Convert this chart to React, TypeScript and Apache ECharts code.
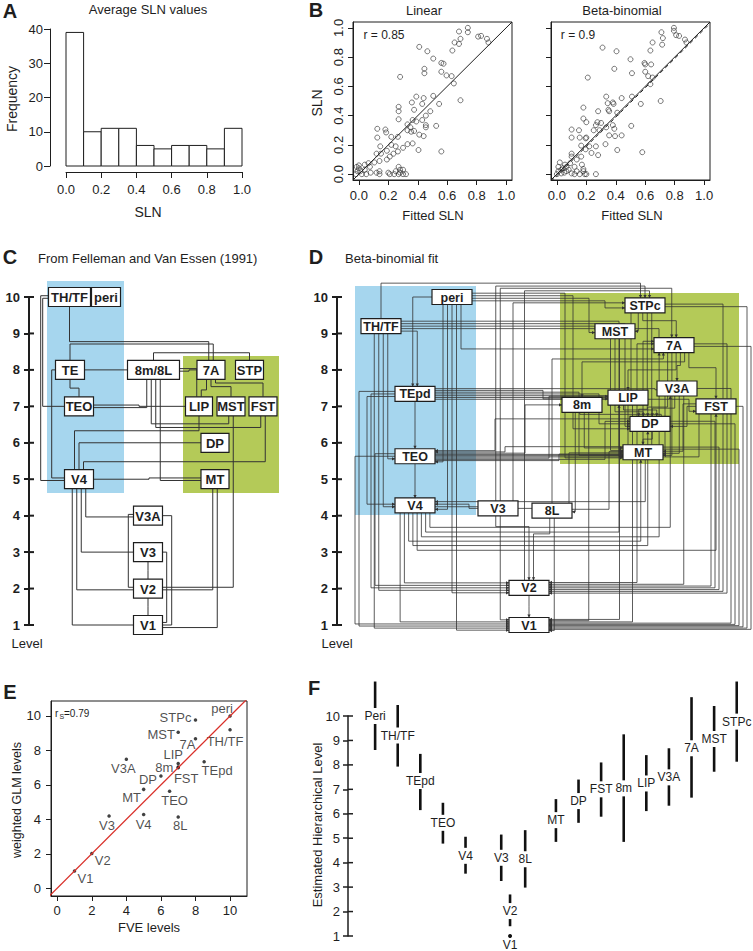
import React, { useEffect, useRef } from "react";
import * as echarts from "echarts";

const FONT = "'Liberation Sans', Arial, Helvetica, sans-serif";
const INK = "#1e1e1e";
const EDGE = "#333333";
const BLUE = "#a6d6ee";
const GREEN = "#b4ca58";
const RED = "#d9302a";

// ---------------- Panel A: histogram of average SLN values
const histBinStart = [0.0, 0.1, 0.2, 0.3, 0.4, 0.5, 0.6, 0.7, 0.8, 0.9];
const histBinEnd = [0.1, 0.2, 0.3, 0.4, 0.5, 0.6, 0.7, 0.8, 0.9, 1.0];
const histCounts = [39, 10, 11, 11, 6, 5, 6, 6, 5, 11];

// ---------------- Panel B: observed vs fitted SLN
const slnTicks = [0, 0.2, 0.4, 0.6, 0.8, 1.0];
const linearPoints = [
  [0.68, 0.975], [0.74, 1.0], [0.74, 0.97], [0.81, 0.94], [0.83, 0.945], [0.87, 0.925], [0.88, 0.9], [0.65, 0.9],
  [0.68, 0.89], [0.69, 0.925], [0.635, 0.845], [0.41, 0.87], [0.465, 0.84], [0.505, 0.79], [0.56, 0.76], [0.575, 0.755],
  [0.445, 0.72], [0.445, 0.69], [0.56, 0.7], [0.595, 0.675], [0.63, 0.67], [0.645, 0.62], [0.28, 0.665], [0.69, 0.505],
  [0.39, 0.53], [0.44, 0.52], [0.505, 0.535], [0.545, 0.48], [0.43, 0.48], [0.36, 0.49], [0.27, 0.46], [0.27, 0.43],
  [0.375, 0.44], [0.485, 0.43], [0.455, 0.4], [0.365, 0.37], [0.27, 0.375], [0.33, 0.34], [0.39, 0.36], [0.43, 0.37],
  [0.455, 0.335], [0.455, 0.32], [0.525, 0.33], [0.35, 0.32], [0.33, 0.3], [0.375, 0.295], [0.355, 0.29], [0.41, 0.27],
  [0.44, 0.26], [0.365, 0.21], [0.33, 0.205], [0.265, 0.255], [0.22, 0.255], [0.185, 0.285], [0.18, 0.305], [0.125, 0.31],
  [0.125, 0.25], [0.145, 0.19], [0.22, 0.2], [0.25, 0.19], [0.3, 0.18], [0.405, 0.165], [0.56, 0.155], [0.15, 0.14],
  [0.12, 0.14], [0.19, 0.16], [0.235, 0.14], [0.265, 0.155], [0.21, 0.12], [0.19, 0.1], [0.14, 0.09], [0.105, 0.08],
  [0.065, 0.075], [0.075, 0.05], [0.04, 0.065], [-0.015, 0.05], [0.0, 0.04], [0.01, 0.02], [0.04, 0.03], [0.08, 0.01],
  [0.14, 0.02], [0.14, 0.0], [0.2, 0.01], [0.21, 0.0], [0.27, 0.05], [0.28, 0.03], [0.27, 0.0], [0.3, 0.0],
  [0.32, 0.0], [0.3, 0.03], [0.25, 0.02], [-0.02, 0.0], [0.02, 0.0], [-0.01, 0.02], [0.12, 0.01], [0.24, 0.0],
  [0.28, 0.01], [0.0, 0.06], [0.05, 0.0],
];
const betaPoints = [
  [0.795, 1.0], [0.795, 0.98], [0.81, 0.95], [0.83, 0.945], [0.71, 0.97], [0.72, 0.93], [0.715, 0.885], [0.65, 0.9],
  [0.635, 0.845], [0.87, 0.92], [0.88, 0.9], [0.31, 0.865], [0.405, 0.84], [0.5, 0.785], [0.39, 0.72], [0.51, 0.69],
  [0.595, 0.76], [0.6, 0.75], [0.64, 0.75], [0.6, 0.7], [0.62, 0.67], [0.65, 0.66], [0.635, 0.615], [0.21, 0.66],
  [0.705, 0.5], [0.335, 0.53], [0.345, 0.485], [0.38, 0.49], [0.385, 0.48], [0.44, 0.52], [0.51, 0.53], [0.57, 0.48],
  [0.18, 0.455], [0.28, 0.43], [0.35, 0.44], [0.355, 0.43], [0.41, 0.42], [0.18, 0.38], [0.2, 0.355], [0.275, 0.355],
  [0.265, 0.335], [0.3, 0.35], [0.335, 0.32], [0.38, 0.335], [0.39, 0.31], [0.505, 0.33], [0.25, 0.3], [0.29, 0.3],
  [0.1, 0.305], [0.15, 0.3], [0.1, 0.25], [0.155, 0.25], [0.195, 0.245], [0.2, 0.25], [0.355, 0.265], [0.395, 0.26],
  [0.44, 0.265], [0.33, 0.205], [0.165, 0.195], [0.22, 0.19], [0.265, 0.19], [0.195, 0.17], [0.235, 0.145], [0.28, 0.13],
  [0.41, 0.165], [0.58, 0.15], [0.1, 0.14], [0.1, 0.12], [0.165, 0.12], [0.135, 0.1], [0.09, 0.075], [0.055, 0.065],
  [0.02, 0.08], [0.01, 0.05], [0.065, 0.05], [0.12, 0.05], [0.17, 0.065], [0.18, 0.035], [0.18, 0.02], [0.19, 0.0],
  [0.2, 0.0], [0.265, 0.0], [0.01, 0.02], [0.03, 0.005], [0.065, 0.02], [0.1, 0.005], [0.135, 0.02], [0.03, 0.03],
  [0.155, 0.0], [0.0, 0.0], [0.05, 0.01], [0.08, 0.03], [0.12, 0.0], [0.04, 0.04],
];
const identityLine = [[-0.04, -0.04], [1.04, 1.04]];
const betaFitLine = [[-0.04, -0.05], [1.04, 1.03]];

// ---------------- Shared area levels (weighted GLM), panels D, E, F
const areaNames = ["V1", "V2", "V3", "V4", "MT", "DP", "V3A", "8m", "LIP", "FST", "TEO", "8L", "TEpd", "7A", "TH/TF", "MST", "STPc", "peri"];
const fveLevels = [1, 2, 3, 5, 5, 6, 4, 7, 7, 7, 6.5, 7, 8.5, 8, 10, 7, 8, 10];
const glmLevels = [1.0, 2.02, 4.2, 4.28, 5.74, 6.52, 7.49, 7.04, 7.24, 7.0, 5.63, 4.14, 7.34, 8.68, 9.2, 9.06, 9.77, 10.0];
const eLabelOffsets = [[11, 7], [11, 7], [-2, 10], [0, 10], [-12, 8], [-13, 4], [-3, 9], [-14, 1], [-5, -9], [8, 11], [5, 9], [2, 9], [13, 9], [-8, 6], [-5, 12], [-17, 2], [-20, -2], [-8, -7]];
const eTicks = [0, 2, 4, 6, 8, 10];
const levelTicks = [1, 2, 3, 4, 5, 6, 7, 8, 9, 10];

// ---------------- Panel C: Felleman & Van Essen hierarchy
const cNodeNames = ["TH/TF", "peri", "TE", "TEO", "8m/8L", "7A", "STP", "LIP", "MST", "FST", "DP", "MT", "V4", "V3A", "V3", "V2", "V1"];
const cNodeColumns = [40.5, 77, 41, 50, 124.5, 182, 220.5, 170, 202, 234, 186, 186, 50, 119, 119, 119, 119];
const cNodeLevels = [10, 10, 8, 7, 8, 8, 8, 7, 7, 7, 6, 5, 5, 4, 3, 2, 1];
const cNodeWidths = [42, 29, 29, 29, 52, 28, 28, 27, 28, 28, 28, 28, 29, 29, 29, 29, 29];
const cEdges: [string, string, string, number][] = [
  ["TH/TF", "TEO", "hvh", 13.7], ["TH/TF", "V4", "hvh", 11.7], ["TH/TF", "7A", "vhv", 8.775], ["TE", "7A", "vhv", 8.71],
  ["8m/8L", "STP", "vhv", 8.47], ["TE", "8m/8L", "hvh", 70], ["8m/8L", "7A", "hvh", 160], ["8m/8L", "LIP", "hv", 0],
  ["TE", "TEO", "vhv", 7.5], ["TE", "V4", "hvh", 22.7], ["TEO", "8m/8L", "hv", 0], ["TEO", "LIP", "hvh", 110],
  ["7A", "LIP", "vhv", 7.45], ["7A", "MST", "vhv", 7.54], ["7A", "FST", "vhv", 7.64], ["8m/8L", "MST", "vhv", 6.52],
  ["8m/8L", "FST", "vhv", 6.42], ["V4", "LIP", "vhv", 6.33], ["8m/8L", "MT", "vh", 0], ["V4", "DP", "vh", 0],
  ["V4", "FST", "vhv", 5.48], ["V4", "MT", "hvh", 120], ["MT", "V2", "vh", 0], ["MT", "V1", "vh", 0],
  ["MST", "V2", "vh", 0], ["V4", "V1", "vh", 0], ["V4", "V2", "vh", 0], ["V4", "V3", "vh", 0], ["V4", "V3A", "vh", 0],
  ["V3A", "V2", "hvh", 99.3], ["V3A", "V1", "hvh", 142.7], ["V3", "V1", "hvh", 137.7], ["V3", "V2", "vhv", 2.5],
  ["V2", "V1", "vhv", 1.5],
];
const cRegions = [
  { x1: 18, x2: 95, top: 10.44, bottom: 4.62 },
  { x1: 154, x2: 250, top: 8.38, bottom: 4.62 },
];

// ---------------- Panel D: beta-binomial fit hierarchy
const dNodeNames = ["peri", "STPc", "TH/TF", "MST", "7A", "TEpd", "V3A", "LIP", "8m", "FST", "DP", "MT", "TEO", "V4", "V3", "8L", "V2", "V1"];
const dNodeColumns = [115, 308, 44, 278, 337, 78, 340, 291, 245, 379, 313, 306, 78, 78, 161, 215, 192, 192];
const dEdges: [string, string, string, number][] = [
  ["TH/TF", "STPc", "vhv", 10.38], ["V3", "STPc", "vhv", 10.3], ["V3", "7A", "vhv", 10.24], ["V2", "STPc", "vhv", 10.17],
  ["peri", "TEpd", "hv", 0], ["peri", "TEO", "vh", 0], ["peri", "V4", "vh", 0], ["peri", "V2", "vh", 0], ["peri", "V1", "vh", 0],
  ["peri", "7A", "vh", 0], ["peri", "STPc", "hvh", 268], ["peri", "MST", "hvh", 252], ["peri", "DP", "hvh", 236], ["peri", "MT", "hvh", 228],
  ["TH/TF", "V1", "vh", 0], ["TH/TF", "V2", "vh", 0], ["TH/TF", "V4", "vh", 0], ["TH/TF", "TEO", "vh", 0], ["TH/TF", "TEpd", "hv", 0],
  ["TH/TF", "7A", "hvh", 322], ["TH/TF", "MST", "hvh", 258], ["TH/TF", "DP", "hvh", 288], ["TH/TF", "MT", "hvh", 282],
  ["TEpd", "TEO", "vhv", 6.6], ["TEpd", "V4", "hvh", 30], ["TEpd", "V2", "hvh", 34], ["TEpd", "V1", "hvh", 22],
  ["TEpd", "FST", "hvh", 352], ["TEpd", "7A", "hvh", 300], ["TEpd", "STPc", "hvh", 294], ["TEpd", "DP", "hvh", 262],
  ["TEpd", "MT", "hvh", 242], ["TEpd", "LIP", "hvh", 206], ["TEpd", "V3A", "hvh", 318],
  ["TEO", "V4", "vhv", 4.95], ["TEO", "V1", "hvh", 18], ["TEO", "V2", "hvh", 38], ["TEO", "MT", "hvh", 222],
  ["TEO", "DP", "hvh", 268], ["TEO", "LIP", "hvh", 212], ["TEO", "FST", "hvh", 362], ["TEO", "7A", "hvh", 306],
  ["TEO", "V3A", "hvh", 328], ["TEO", "8m", "hvh", 188],
  ["V4", "V1", "vh", 0], ["V4", "V2", "vh", 0], ["V4", "MT", "vhv", 3.3], ["V4", "DP", "vhv", 3.18], ["V4", "FST", "vhv", 3.05],
  ["V4", "7A", "vhv", 3.42], ["V4", "LIP", "vhv", 3.55], ["V4", "V3A", "vhv", 3.68], ["V4", "STPc", "hvh", 176],
  ["V3", "V4", "hvh", 132], ["V3", "V2", "vhv", 3.7], ["V3", "V1", "vh", 0], ["V3", "MT", "hvh", 232],
  ["8L", "V2", "vhv", 3.5], ["8L", "V1", "vh", 0], ["8L", "7A", "vhv", 8.3], ["8m", "8L", "vh", 0], ["8L", "MT", "hvh", 272],
  ["STPc", "MST", "vh", 0], ["STPc", "7A", "vhv", 9.35], ["STPc", "DP", "vhv", 6.92], ["STPc", "MT", "vh", 0],
  ["MST", "MT", "vh", 0], ["MST", "DP", "vhv", 6.85], ["7A", "DP", "vhv", 6.98], ["7A", "MT", "vh", 0],
  ["7A", "LIP", "vhv", 8.0], ["7A", "V3A", "vhv", 8.12], ["7A", "8m", "vhv", 8.22], ["7A", "FST", "vhv", 8.06],
  ["V3A", "DP", "vhv", 6.95], ["V3A", "MT", "vh", 0], ["LIP", "DP", "vhv", 6.9], ["LIP", "MT", "vh", 0],
  ["8m", "DP", "vhv", 6.78], ["8m", "MT", "vh", 0], ["FST", "DP", "hvh", 350], ["FST", "MT", "hvh", 346], ["DP", "MT", "vhv", 6.1],
  ["7A", "V1", "hvh", 414], ["STPc", "V1", "hvh", 410], ["FST", "V1", "hvh", 406], ["MT", "V1", "hvh", 402],
  ["DP", "V1", "hvh", 398], ["V3A", "V1", "hvh", 394], ["7A", "V2", "hvh", 390], ["STPc", "V2", "hvh", 386],
  ["MT", "V2", "hvh", 382], ["DP", "V2", "hvh", 378], ["FST", "V2", "hvh", 374],
  ["LIP", "V1", "vh", 0], ["8m", "V1", "vh", 0], ["MST", "V1", "vh", 0], ["V3A", "V2", "vh", 0], ["LIP", "V2", "vh", 0],
  ["MT", "TEO", "hvh", 168], ["DP", "TEO", "hvh", 158], ["MT", "V4", "vh", 0], ["V2", "V1", "vhv", 1.5],
];
const dRegions = [
  { x1: 18, x2: 139, top: 10.3, bottom: 4.02 },
  { x1: 223, x2: 402, top: 10.11, bottom: 5.42 },
];

// ---------------- Panel F: estimated hierarchical levels with intervals
const fAreas = ["Peri", "TH/TF", "TEpd", "TEO", "V4", "V3", "V2", "V1", "8L", "MT", "DP", "FST", "8m", "LIP", "V3A", "7A", "MST", "STPc"];
const fPositions = [0, 1, 2, 3, 4, 5.58, 5.97, 5.97, 6.64, 8, 9, 10, 11, 12, 13, 14, 15, 16];
const fLow = [8.61, 7.93, 6.15, 4.78, 3.55, 3.25, 1.4, 1.0, 2.98, 4.85, 5.63, 5.88, 4.85, 6.11, 6.33, 6.66, 7.72, 8.13];
const fHigh = [11.41, 10.45, 8.45, 6.45, 5.06, 5.15, 2.7, 1.0, 5.33, 6.6, 7.4, 8.1, 9.25, 8.4, 8.68, 10.77, 10.41, 11.41];
const fEstimate = [10.0, 9.2, 7.34, 5.63, 4.28, 4.2, 2.02, 1.0, 4.14, 5.74, 6.52, 7.0, 7.04, 7.24, 7.49, 8.68, 9.06, 9.77];

// ------------------------------------------------------------------
type RNode = { x: number; y: number; w: number };
type REdge = [string, string, string, number];

function routeEdges(nodes: Record<string, RNode>, edges: REdge[], hh: number, tbStep: number, tbSpan: number, lrStep: number, lrSpan: number) {
  const sides = edges.map(([s, d, m, c]) => {
    const S = nodes[s], D = nodes[d];
    if (m === "vh") return [D.y > S.y ? "T" : "B", S.x < D.x ? "L" : "R"];
    if (m === "hv") return [D.x > S.x ? "R" : "L", S.y > D.y ? "T" : "B"];
    if (m === "hvh") return [c > S.x ? "R" : "L", c > D.x ? "R" : "L"];
    return [c > S.y ? "T" : "B", c > D.y ? "T" : "B"];
  });
  const total: Record<string, number> = {};
  const slot = edges.map(() => [0, 0]);
  edges.forEach((e, i) => {
    [0, 1].forEach((k) => {
      const key = e[k] + "|" + sides[i][k];
      slot[i][k] = total[key] || 0;
      total[key] = (total[key] || 0) + 1;
    });
  });
  const off = (name: string, side: string, idx: number) => {
    const n = total[name + "|" + side];
    const tb = side === "T" || side === "B";
    const step = tb ? Math.min(tbStep, tbSpan / n) : Math.min(lrStep, lrSpan / n);
    return (idx - (n - 1) / 2) * step;
  };
  const port = (name: string, side: string, o: number) => {
    const N = nodes[name];
    if (side === "L") return [N.x - N.w / 2, N.y + o];
    if (side === "R") return [N.x + N.w / 2, N.y + o];
    if (side === "T") return [N.x + o, N.y + hh];
    return [N.x + o, N.y - hh];
  };
  return edges.map(([s, d, m, c], i) => {
    const a = port(s, sides[i][0], off(s, sides[i][0], slot[i][0]));
    const b = port(d, sides[i][1], off(d, sides[i][1], slot[i][1]));
    if (m === "vh") return [a, [a[0], b[1]], b];
    if (m === "hv") return [a, [b[0], a[1]], b];
    if (m === "hvh") return [a, [c, a[1]], [c, b[1]], b];
    return [a, [a[0], c], [b[0], c], b];
  });
}

function regionSeries(xi: number, regions: any[], colors: string[]) {
  return {
    type: "custom", xAxisIndex: xi, yAxisIndex: xi, clip: false, silent: true, z: 1,
    data: regions.map((r) => [r.x1, r.top, r.x2, r.bottom]),
    renderItem: (p: any, api: any) => {
      const a = api.coord([api.value(0), api.value(1)]);
      const b = api.coord([api.value(2), api.value(3)]);
      return {
        type: "rect",
        shape: { x: Math.min(a[0], b[0]), y: Math.min(a[1], b[1]), width: Math.abs(b[0] - a[0]), height: Math.abs(b[1] - a[1]) },
        style: { fill: colors[p.dataIndex] },
      };
    },
  };
}

function edgeSeries(xi: number, routes: number[][][], width: number, arrows: boolean) {
  return {
    type: "custom", xAxisIndex: xi, yAxisIndex: xi, clip: false, silent: true, z: 2,
    data: routes.map((r, i) => [r[0][0], r[0][1], i]),
    renderItem: (p: any, api: any) => {
      const pts = routes[api.value(2)].map((q) => api.coord(q));
      const children: any[] = [
        { type: "polyline", shape: { points: pts }, style: { stroke: EDGE, lineWidth: width, fill: null } },
      ];
      if (arrows) {
        const n = pts.length;
        const [x1, y1] = pts[n - 2];
        const [x2, y2] = pts[n - 1];
        const L = Math.hypot(x2 - x1, y2 - y1);
        if (L > 2) {
          const ux = (x2 - x1) / L, uy = (y2 - y1) / L, s = 3;
          children.push({
            type: "polygon",
            shape: { points: [[x2, y2], [x2 - ux * s - uy * s * 0.55, y2 - uy * s + ux * s * 0.55], [x2 - ux * s + uy * s * 0.55, y2 - uy * s - ux * s * 0.55]] },
            style: { fill: EDGE },
          });
        }
      }
      return { type: "group", children };
    },
  };
}

function nodeSeries(xi: number, names: string[], xs: number[], ys: number[], ws: number[], h: number, fontSize: number) {
  return {
    type: "custom", xAxisIndex: xi, yAxisIndex: xi, clip: false, silent: true, z: 3,
    data: names.map((n, i) => [xs[i], ys[i], i]),
    renderItem: (p: any, api: any) => {
      const i = api.value(2);
      const c = api.coord([api.value(0), api.value(1)]);
      const w = ws[i];
      return {
        type: "group",
        children: [
          { type: "rect", shape: { x: c[0] - w / 2, y: c[1] - h / 2, width: w, height: h }, style: { fill: "#ffffff", stroke: INK, lineWidth: 1.2 } },
          {
            type: "text", x: c[0], y: c[1] + 0.5,
            style: { text: names[i], align: "center", verticalAlign: "middle", textAlign: "center", textVerticalAlign: "middle", fontSize, fontWeight: "bold", fontFamily: FONT, fill: INK },
          },
        ],
      };
    },
  };
}

// short ticks on the inner side of a level axis (the axis itself draws the outer half)
function innerTickSeries(xi: number, xAtAxis: number, width: number) {
  return {
    type: "custom", xAxisIndex: xi, yAxisIndex: xi, clip: false, silent: true, z: 5,
    data: levelTicks.map((t) => [xAtAxis, t]),
    renderItem: (p: any, api: any) => {
      const c = api.coord([api.value(0), api.value(1)]);
      return { type: "line", shape: { x1: c[0], y1: c[1], x2: c[0] + 5, y2: c[1] }, style: { stroke: INK, lineWidth: width } };
    },
  };
}

const txt = (text: string, x: number, y: number, size: number, o: any = {}) => ({
  type: "text", x, y, rotation: o.rot ? Math.PI / 2 : 0, silent: true, z: 10,
  style: {
    text, fontSize: size, fontWeight: o.bold ? "bold" : "normal", fontFamily: FONT, fill: INK,
    align: o.align || "center", verticalAlign: "middle", textAlign: o.align || "center", textVerticalAlign: "middle",
  },
});

const noSplit = { show: false };
const lineStyle = (w = 1) => ({ show: true, onZero: false, lineStyle: { color: INK, width: w } });
const fmt1 = (v: number) => v.toFixed(1);

function buildOption() {
  const glmOf = (n: string) => glmLevels[areaNames.indexOf(n)];

  const cNodes: Record<string, RNode> = {};
  cNodeNames.forEach((n, i) => (cNodes[n] = { x: cNodeColumns[i], y: cNodeLevels[i], w: cNodeWidths[i] }));
  const cRoutes = routeEdges(cNodes, cEdges, 9.5 / 36.44, 4.5, 20, 0.07, 0.3);

  const dLevels = dNodeNames.map(glmOf);
  const dWidths = dNodeNames.map(() => 40);
  const dNodes: Record<string, RNode> = {};
  dNodeNames.forEach((n, i) => (dNodes[n] = { x: dNodeColumns[i], y: dLevels[i], w: dWidths[i] }));
  const dRoutes = routeEdges(dNodes, dEdges, 7.5 / 36.44, 4.5, 34, 0.07, 0.34);

  const levelAxis = (g: number, bold: boolean, w: number, margin: number, size: number) => ({
    gridIndex: g, type: "value", position: "left", min: 1, max: 10, interval: 1,
    axisLine: lineStyle(w), axisTick: { show: true, length: 5, lineStyle: { color: INK, width: w } },
    axisLabel: { show: true, margin, fontSize: size, fontWeight: bold ? "bold" : "normal", color: INK, fontFamily: FONT },
    splitLine: noSplit,
  });
  const frameX = (g: number, labels: boolean) => ({
    gridIndex: g, type: "value", position: "bottom", min: -0.04, max: 1.04,
    axisLine: lineStyle(1), axisTick: { show: true, length: 5, customValues: slnTicks, lineStyle: { color: INK } },
    axisLabel: { show: labels, margin: 9, fontSize: 13, color: INK, fontFamily: FONT, customValues: slnTicks, formatter: fmt1 },
    splitLine: noSplit,
  });
  const frameY = (g: number, labels: boolean) => ({
    gridIndex: g, type: "value", position: "left", min: -0.04, max: 1.04,
    axisLine: lineStyle(1), axisTick: { show: true, length: 5, customValues: slnTicks, lineStyle: { color: INK } },
    axisLabel: { show: labels, margin: 8, rotate: 90, fontSize: 13, color: INK, fontFamily: FONT, customValues: slnTicks, formatter: fmt1 },
    splitLine: noSplit,
  });
  const grid = (left: number, top: number, width: number, height: number, frame = false) => ({
    left, top, width, height, containLabel: false, outerBoundsMode: "none",
    show: frame, borderColor: INK, borderWidth: 1, backgroundColor: "transparent",
  });

  return {
    animation: false,
    backgroundColor: "#ffffff",
    textStyle: { fontFamily: FONT },
    grid: [
      grid(66, 29, 176, 137),
      grid(353, 22, 159, 158, true),
      grid(551, 22, 159, 158, true),
      grid(29, 297, 271, 328),
      grid(337, 297, 416, 328),
      grid(51, 701, 196, 195, true),
      grid(348, 716, 405, 220),
    ],
    xAxis: [
      {
        gridIndex: 0, type: "value", position: "bottom", min: 0, max: 1, interval: 0.2, offset: 6,
        axisLine: lineStyle(1), axisTick: { show: true, length: 6, lineStyle: { color: INK } },
        axisLabel: { show: true, margin: 11, fontSize: 13, color: INK, fontFamily: FONT, formatter: fmt1 },
        splitLine: noSplit,
      },
      frameX(1, true),
      frameX(2, true),
      { gridIndex: 3, type: "value", min: 0, max: 271, show: false },
      { gridIndex: 4, type: "value", min: 0, max: 416, show: false },
      {
        gridIndex: 5, type: "value", position: "bottom", min: -0.36, max: 10.98,
        axisLine: lineStyle(1), axisTick: { show: true, length: 5, customValues: eTicks, lineStyle: { color: INK } },
        axisLabel: { show: true, margin: 8, fontSize: 13, color: INK, fontFamily: FONT, customValues: eTicks },
        splitLine: noSplit,
      },
      { gridIndex: 6, type: "value", min: -1.2, max: 16.72, show: false },
    ],
    yAxis: [
      {
        gridIndex: 0, type: "value", position: "left", min: 0, max: 40, interval: 10, offset: 16,
        axisLine: lineStyle(1), axisTick: { show: true, length: 6, lineStyle: { color: INK } },
        axisLabel: { show: true, margin: 7, fontSize: 13, color: INK, fontFamily: FONT },
        splitLine: noSplit,
      },
      frameY(1, true),
      frameY(2, false),
      levelAxis(3, true, 2, 9, 13),
      levelAxis(4, true, 2, 9, 13),
      {
        gridIndex: 5, type: "value", position: "left", min: -0.45, max: 10.87,
        axisLine: lineStyle(1), axisTick: { show: true, length: 5, customValues: eTicks, lineStyle: { color: INK } },
        axisLabel: { show: true, margin: 10, fontSize: 13, color: INK, fontFamily: FONT, customValues: eTicks },
        splitLine: noSplit,
      },
      levelAxis(6, false, 1.5, 8, 13),
    ],
    series: [
      // A
      {
        type: "custom", xAxisIndex: 0, yAxisIndex: 0, clip: false, silent: true,
        data: histBinStart.map((s, i) => [s, histCounts[i], histBinEnd[i]]),
        renderItem: (p: any, api: any) => {
          const a = api.coord([api.value(0), api.value(1)]);
          const b = api.coord([api.value(2), 0]);
          return { type: "rect", shape: { x: a[0], y: a[1], width: b[0] - a[0], height: b[1] - a[1] }, style: { fill: "#ffffff", stroke: INK, lineWidth: 1 } };
        },
      },
      // B linear
      {
        type: "scatter", xAxisIndex: 1, yAxisIndex: 1, data: linearPoints, symbol: "circle", symbolSize: 5, silent: true,
        itemStyle: { color: "rgba(0,0,0,0)", borderColor: "#2a2a2a", borderWidth: 0.8 },
      },
      { type: "line", xAxisIndex: 1, yAxisIndex: 1, data: identityLine, symbol: "none", silent: true, lineStyle: { color: INK, width: 1 } },
      // B beta-binomial
      {
        type: "scatter", xAxisIndex: 2, yAxisIndex: 2, data: betaPoints, symbol: "circle", symbolSize: 5, silent: true,
        itemStyle: { color: "rgba(0,0,0,0)", borderColor: "#2a2a2a", borderWidth: 0.8 },
      },
      { type: "line", xAxisIndex: 2, yAxisIndex: 2, data: identityLine, symbol: "none", silent: true, lineStyle: { color: INK, width: 1 } },
      { type: "line", xAxisIndex: 2, yAxisIndex: 2, data: betaFitLine, symbol: "none", silent: true, lineStyle: { color: INK, width: 1, type: [4, 3] } },
      // C
      regionSeries(3, cRegions, [BLUE, GREEN]),
      edgeSeries(3, cRoutes, 1, false),
      nodeSeries(3, cNodeNames, cNodeColumns, cNodeLevels, cNodeWidths, 19, 13),
      innerTickSeries(3, 0, 2),
      // D
      regionSeries(4, dRegions, [BLUE, GREEN]),
      edgeSeries(4, dRoutes, 0.8, true),
      nodeSeries(4, dNodeNames, dNodeColumns, dLevels, dWidths, 15, 12.5),
      innerTickSeries(4, 0, 2),
      // E
      { type: "line", xAxisIndex: 5, yAxisIndex: 5, data: [[-1, -1], [12, 12]], symbol: "none", clip: true, silent: true, lineStyle: { color: RED, width: 1.3 } },
      {
        type: "scatter", xAxisIndex: 5, yAxisIndex: 5, symbol: "circle", symbolSize: 3.5, silent: true,
        itemStyle: { color: "#111111" },
        data: areaNames.map((n, i) => ({
          value: [fveLevels[i], glmLevels[i]], name: n,
          label: { show: true, position: "inside", offset: eLabelOffsets[i], formatter: n, fontSize: 13, color: INK, fontFamily: FONT, textBorderWidth: 0 },
        })),
      },
      // F
      {
        type: "custom", xAxisIndex: 6, yAxisIndex: 6, clip: false, silent: true,
        data: fAreas.map((n, i) => [fPositions[i], fLow[i], fHigh[i], fEstimate[i], i]),
        renderItem: (p: any, api: any) => {
          const i = api.value(4);
          const lo = api.coord([api.value(0), api.value(1)]);
          const hi = api.coord([api.value(0), api.value(2)]);
          const m = api.coord([api.value(0), api.value(3)]);
          const dot = fHigh[i] === fLow[i];
          const ch: any[] = [];
          if (dot) ch.push({ type: "circle", shape: { cx: m[0], cy: m[1], r: 2 }, style: { fill: "#111111" } });
          else ch.push({ type: "line", shape: { x1: lo[0], y1: lo[1], x2: hi[0], y2: hi[1] }, style: { stroke: "#111111", lineWidth: 2.6 } });
          ch.push({
            type: "text", x: m[0], y: dot ? m[1] + 8.5 : m[1],
            style: {
              text: fAreas[i], align: "center", verticalAlign: "middle", textAlign: "center", textVerticalAlign: "middle",
              fontSize: 12, fontFamily: FONT, fill: INK, backgroundColor: dot ? "transparent" : "#ffffff", padding: [2, 0, 2, 0],
            },
          });
          return { type: "group", children: ch };
        },
      },
      innerTickSeries(6, -1.2, 1.5),
    ],
    graphic: {
      elements: [
        txt("A", 10, 11, 20, { bold: true }),
        txt("Average SLN values", 148, 9, 13),
        txt("Frequency", 12, 99, 14, { rot: true }),
        txt("SLN", 148, 212, 14),
        txt("B", 316, 10, 20, { bold: true }),
        txt("Linear", 424, 10, 13),
        txt("Beta-binomial", 622, 10, 13),
        txt("r = 0.85", 384, 35, 12),
        txt("r = 0.9", 578, 35, 12),
        txt("SLN", 317, 103, 14, { rot: true }),
        txt("Fitted SLN", 433, 215, 13),
        txt("Fitted SLN", 632, 215, 13),
        txt("C", 10, 257, 20, { bold: true }),
        txt("From Felleman and Van Essen (1991)", 38, 258, 13, { align: "left" }),
        txt("D", 316, 257, 20, { bold: true }),
        txt("Beta-binomial fit", 345, 258, 13, { align: "left" }),
        txt("Level", 27, 643, 13),
        txt("Level", 337, 643, 13),
        txt("E", 10, 692, 20, { bold: true }),
        txt("r", 55, 713, 10, { align: "left" }),
        txt("S", 59.5, 716, 7, { align: "left" }),
        txt("=0.79", 64, 713, 10, { align: "left" }),
        txt("FVE levels", 149, 927, 13),
        txt("weighted GLM levels", 17, 800, 12.5, { rot: true }),
        txt("F", 314, 688, 20, { bold: true }),
        txt("Estimated Hierarchical Level", 317, 825, 13, { rot: true }),
      ],
    },
  };
}

export default function App() {
  const ref = useRef<HTMLDivElement>(null);
  useEffect(() => {
    if (!ref.current) return;
    const chart = echarts.init(ref.current, null, { renderer: "svg" });
    chart.setOption(buildOption() as any);
    return () => chart.dispose();
  }, []);
  return (
    <div
      ref={ref}
      style={{ position: "fixed", left: 0, top: 0, width: 753, height: 951, background: "#ffffff" }}
    />
  );
}
